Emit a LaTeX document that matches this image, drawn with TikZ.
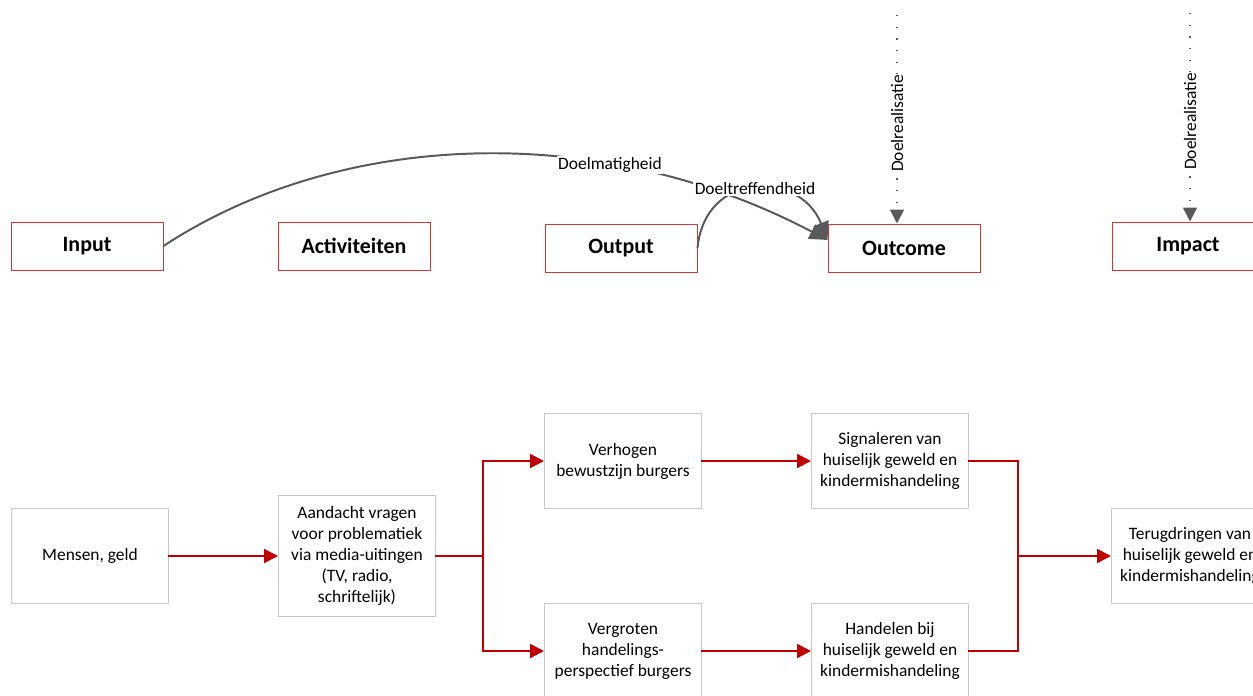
\documentclass[tikz,border=0pt]{standalone}
\usepackage{fontspec}
\setmainfont{Carlito}
\usepackage{xcolor}
\definecolor{ChainRed}{HTML}{C00000}
\definecolor{LevelRed}{HTML}{D83434}
\definecolor{LinkGray}{HTML}{595959}
\usepackage{tikz}
\usetikzlibrary{positioning}
\usetikzlibrary{calc}
\usetikzlibrary{arrows, arrows.meta}

\begin{document}
\begin{tikzpicture}[
    auto,
    levelRed/.style={rectangle,
    draw=LevelRed,
    line width=0.7pt,
    font=\fontsize{15.6}{18}\selectfont\bfseries,
    minimum width=3.8cm,
    minimum height=1.2cm},
    chainGray/.style={rectangle,
    draw=black!22,
    line width=0.7pt,
    font=\fontsize{12.4}{14.9}\selectfont,
    align=center,
    minimum width=3.925cm,
    minimum height=2.375cm},
    chainLine/.style={draw=ChainRed, line width=1.4pt, line cap=rect},
    chainArrow/.style={chainLine, -{Triangle[length=0.35cm, width=0.35cm]}},
    linkCurve/.style={draw=LinkGray, line width=1.4pt, -{Triangle[length=0.45cm, width=0.4cm]}},
    linkLabel/.style={fill=white, inner sep=1pt, text=black, anchor=center,
    font=\fontsize{12.4}{14.9}\selectfont},
    goalArrow/.style={draw=LinkGray, line width=1.2pt, dash pattern=on 1pt off 7.3pt,
    -{Triangle[length=0.35cm, width=0.35cm]}}
    ]
    \useasboundingbox (0,0) rectangle (31.325,-17.375);
    % levels
    \node[levelRed] (1) [xshift=2.175cm, yshift=-6.15cm] {Input};
    \node[levelRed] (2) [xshift=8.85cm, yshift=-6.15cm] {Activiteiten};
    \node[levelRed] (3) [xshift=15.525cm, yshift=-6.2cm] {Output};
    \node[levelRed] (4) [xshift=22.6cm, yshift=-6.2cm] {Outcome};
    \node[levelRed] (5) [xshift=29.7cm, yshift=-6.15cm] {Impact};
    \coordinate (4in) at (22.425,-0.375);
    \coordinate (5in) at (29.75,-0.325);
    \draw[goalArrow] (4in) -- (4in |- 4.north) node[pos=0.52, rotate=90, linkLabel] {Doelrealisatie};
    \draw[goalArrow] (5in) -- (5in |- 5.north) node[pos=0.52, rotate=90, linkLabel] {Doelrealisatie};
    \draw[linkCurve] (1.east) .. controls (8.5,-3.25) and (15,-3.0) .. (4.174) node[pos=0.69, linkLabel] {Doelmatigheid};
    \draw[linkCurve] (3.east) .. controls (17.625,-4.25) and (20,-4.25) .. (4.174) node[pos=0.5, linkLabel] {Doeltreffendheid};
    % chain
    \node[chainGray] (6) [xshift=2.25cm, yshift=-13.9cm] {Mensen, geld};
    \node[chainGray, minimum height=3.025cm] (7) [xshift=8.925cm, yshift=-13.9cm] {Aandacht vragen\\voor problematiek\\via media-uitingen\\(TV, radio,\\schriftelijk)};
    \node[chainGray] (8) [xshift=15.575cm, yshift=-11.525cm] {Verhogen\\bewustzijn burgers};
    \node[chainGray] (9) [xshift=22.25cm, yshift=-11.525cm] {Signaleren van\\huiselijk geweld en\\kindermishandeling};
    \node[chainGray] (10) [xshift=15.575cm, yshift=-16.275cm] {Vergroten\\handelings-\\perspectief burgers};
    \node[chainGray] (11) [xshift=22.25cm, yshift=-16.275cm] {Handelen bij\\huiselijk geweld en\\kindermishandeling};
    \node[chainGray] (12) [xshift=29.75cm, yshift=-13.9cm] {Terugdringen van\\huiselijk geweld en\\kindermishandeling};
    \coordinate (split) at (12.075,-13.9);
    \coordinate (merge) at (25.45,-13.9);
    \draw[chainArrow] (6) -- (7);
    \draw[chainLine] (7) -- (split);
    \draw[chainArrow] (split) |- (8);
    \draw[chainArrow] (split) |- (10);
    \draw[chainArrow] (8) -- (9);
    \draw[chainArrow] (10) -- (11);
    \draw[chainLine] (9) -| (merge);
    \draw[chainLine] (11) -| (merge);
    \draw[chainArrow] (merge) -- (12);
\end{tikzpicture}
\end{document}
